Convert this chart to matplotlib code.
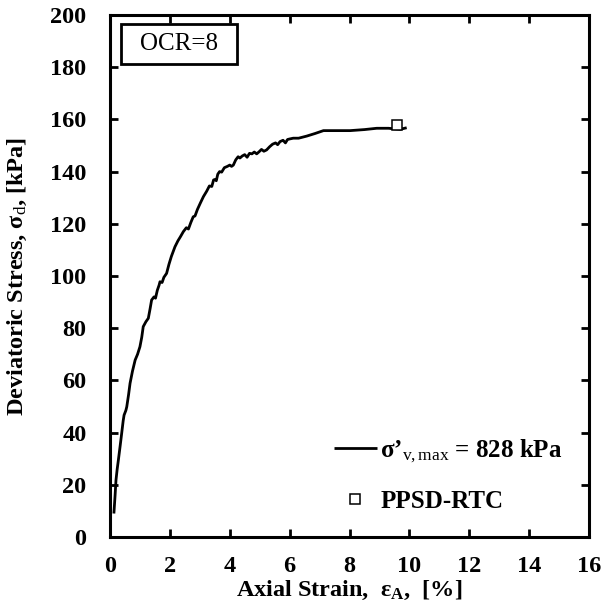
import matplotlib
matplotlib.use("Agg")
import matplotlib.pyplot as plt
from matplotlib.patches import Rectangle

plt.rcParams['font.family'] = ['Liberation Serif', 'DejaVu Serif']
plt.rcParams['mathtext.fontset'] = 'custom'
plt.rcParams['mathtext.rm'] = 'Liberation Serif'
plt.rcParams['mathtext.it'] = 'Liberation Serif:italic'
plt.rcParams['mathtext.bf'] = 'Liberation Serif:bold'

# Data: axial strain [%] vs deviatoric stress [kPa]
strain = [0.13, 0.17, 0.20, 0.24, 0.28, 0.34, 0.39, 0.44, 0.47, 0.53, 0.56, 0.62, 0.67, 0.75,
          0.84, 0.92, 1.00, 1.06, 1.11, 1.20, 1.28, 1.34, 1.39, 1.47, 1.52, 1.58, 1.64, 1.67,
          1.74, 1.80, 1.89, 1.97, 2.05, 2.17, 2.27, 2.35, 2.45, 2.55, 2.62, 2.70, 2.78, 2.84,
          2.92, 3.02, 3.12, 3.23, 3.32, 3.40, 3.46, 3.51, 3.55, 3.60, 3.66, 3.73, 3.82, 3.92,
          4.00, 4.06, 4.12, 4.20, 4.28, 4.34, 4.42, 4.50, 4.58, 4.66, 4.74, 4.82, 4.90, 4.98,
          5.06, 5.14, 5.23, 5.33, 5.43, 5.53, 5.60, 5.68, 5.78, 5.86, 5.93, 6.00, 6.12, 6.30,
          6.57, 6.85, 7.13, 7.50, 8.02, 8.50, 8.91, 9.30, 9.69, 9.91]
stress = [9.0, 16.0, 21.8, 26.0, 29.5, 35.0, 39.7, 44.5, 46.7, 48.5, 49.9, 54.5, 58.9, 63.5,
          67.8, 70.0, 72.9, 76.5, 80.6, 82.5, 83.8, 87.5, 90.8, 92.0, 91.5, 94.5, 96.5, 97.8,
          97.5, 99.5, 101.0, 104.5, 107.5, 111.2, 113.5, 115.0, 117.0, 118.5, 118.0, 120.5, 122.7, 123.0,
          125.5, 128.0, 130.4, 132.5, 134.5, 134.3, 136.8, 137.0, 136.5, 139.0, 140.0, 139.8, 141.5, 142.0,
          142.5, 142.0, 142.5, 144.5, 145.7, 145.2, 146.0, 146.5, 145.5, 147.0, 146.8, 147.5, 146.8, 147.6,
          148.5, 147.8, 148.3, 149.5, 150.5, 151.0, 150.3, 151.5, 152.0, 151.0, 152.3, 152.5, 152.8, 152.8,
          153.6, 154.6, 155.7, 155.7, 155.7, 156.1, 156.6, 156.6, 156.2, 156.8]

rtc_strain = [9.6]
rtc_stress = [158.0]

xticks = list(range(0, 17, 2))
yticks = list(range(0, 201, 20))

fig = plt.figure(figsize=(6.03, 6.09), dpi=100)
ax = fig.add_axes([110/603, 1-537/609, 479/603, 522/609])

ax.plot(strain, stress, color='black', lw=2.0, solid_capstyle='butt',
        label='σ’$_{\\mathrm{v,max}}$ = 828 kPa')
ax.plot(rtc_strain, rtc_stress, ls='none', marker='s', ms=7.5, mfc='white', mec='black',
        mew=1.1, label='PPSD-RTC')

ax.set_xlim(0, 16)
ax.set_ylim(0, 200)
ax.set_xticks(xticks)
ax.set_yticks(yticks)
ax.tick_params(direction='in', length=6, width=2, top=True, right=True, labelsize=17.5)
ax.tick_params(axis='x', pad=14)
ax.tick_params(axis='y', pad=17)
for lab in ax.get_xticklabels() + ax.get_yticklabels():
    lab.set_fontweight('bold')
for s in ax.spines.values():
    s.set_linewidth(2.2)

ax.set_xlabel('Axial Strain,  ε$_{\\mathbf{A}}$,  [%]', fontsize=17.5, fontweight='bold', labelpad=1)
ax.set_ylabel('Deviatoric Stress, σ$_{\\mathrm{d}}$, [kPa]', fontsize=17.5, fontweight='bold')
ax.yaxis.set_label_coords(-(110-29)/479, 0.5)

ax.add_patch(Rectangle((11/479, (537-64)/522), 115.7/479, 40/522, transform=ax.transAxes,
                       fc='white', ec='black', lw=2, zorder=3))
ax.text((179-110)/479, (537-44)/522, 'OCR=8', transform=ax.transAxes, fontsize=18,
        ha='center', va='center', zorder=4)

leg = ax.legend(loc='center left', bbox_to_anchor=((334-110)/479, (537-475)/522),
                frameon=False, handlelength=1.7, handletextpad=0.15,
                labelspacing=1.0, borderpad=0, borderaxespad=0, prop={'weight': 'bold', 'size': 18})

fig.savefig('out.png', dpi=100)
